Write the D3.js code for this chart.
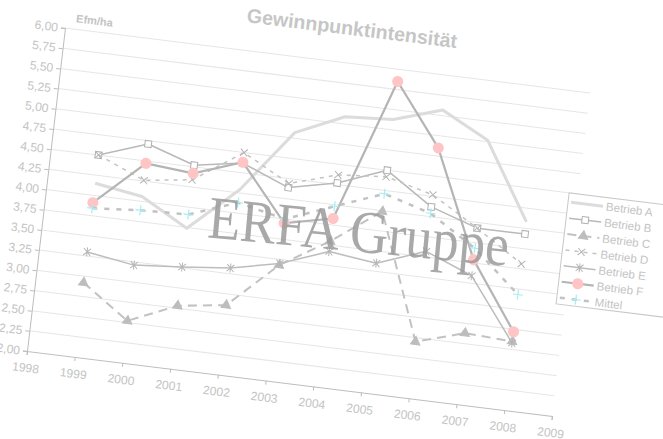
<!DOCTYPE html>
<html>
<head>
<meta charset="utf-8">
<script src="https://cdn.jsdelivr.net/npm/d3@7"></script>
<style>
  body { margin: 0; background: #fff; }
  svg { display: block; }
  text { font-family: "Liberation Sans", Arial, sans-serif; }
</style>
</head>
<body>
<svg id="chart"></svg>
<script>
// values
const years = [1999, 2000, 2001, 2002, 2003, 2004, 2005, 2006, 2007, 2008];
const betriebA = [4.15, 4.06, 3.74, 4.29, 5.07, 5.34, 5.38, 5.57, 5.27, 4.33];
const betriebB = [4.50, 4.71, 4.52, 4.62, 4.39, 4.52, 4.75, 4.37, 4.18, 4.18];
const betriebC = [2.92, 2.52, 2.78, 2.86, 3.43, 3.80, 4.24, 2.70, 2.88, 2.85];
const betriebD = [4.50, 4.26, 4.34, 4.75, 4.44, 4.62, 4.67, 4.52, 4.18, 3.81];
const betriebE = [3.30, 3.21, 3.26, 3.32, 3.45, 3.67, 3.60, 3.82, 3.59, 2.83];
const betriebF = [3.91, 4.47, 4.42, 4.63, 3.95, 4.08, 5.85, 5.10, 3.79, 2.97];
const mittel   = [3.84, 3.89, 3.91, 4.13, 4.00, 4.23, 4.46, 4.29, 3.93, 3.43];
const seriesNames = ["Betrieb A", "Betrieb B", "Betrieb C", "Betrieb D", "Betrieb E", "Betrieb F", "Mittel"];
const xTicks = d3.range(1998, 2010);
const yTicks = d3.range(2, 6.001, 0.25);

const width = 663, height = 439;
const plotW = 525, plotH = 323;

const svg = d3.select("#chart").attr("width", width).attr("height", height);

// the whole chart is drawn flat, then skewed like the photo of the page
const chart = svg.append("g")
  .attr("transform", "matrix(1,0.12381,-0.11765,1,65,28)");

const x = d3.scaleLinear().domain([1998, 2009]).range([0, plotW]);
const y = d3.scaleLinear().domain([2, 6]).range([plotH, 0]);
const fmt = d => d3.format(".2f")(d).replace(".", ",");

// gridlines
chart.append("g")
  .selectAll("line")
  .data(yTicks.slice(1))
  .enter().append("line")
  .attr("x1", 0).attr("x2", plotW)
  .attr("y1", d => y(d)).attr("y2", d => y(d))
  .attr("stroke", "#e6e6e6").attr("stroke-width", 1);

const yAxis = chart.append("g")
  .call(d3.axisLeft(y).tickValues(yTicks).tickFormat(fmt).tickSize(4).tickPadding(3));
const xAxis = chart.append("g")
  .attr("transform", `translate(0,${plotH})`)
  .call(d3.axisBottom(x).tickValues(xTicks).tickFormat(d3.format("d")).tickSize(4).tickPadding(6));

[yAxis, xAxis].forEach(a => {
  a.select(".domain").attr("stroke", "#bdbdbd");
  a.selectAll(".tick line").attr("stroke", "#bdbdbd");
  a.selectAll("text").attr("fill", "#c4c4c4").style("font-size", "12px")
    .style("font-family", '"Liberation Sans", Arial, sans-serif');
});
xAxis.selectAll("text").attr("dy", "0.9em");

chart.append("text")
  .attr("x", 10).attr("y", -7)
  .attr("fill", "#c4c4c4")
  .style("font-size", "11px").style("font-weight", "bold")
  .text("Efm/ha");

chart.append("text")
  .attr("x", 283).attr("y", -28)
  .attr("text-anchor", "middle")
  .attr("fill", "#c6c6c6")
  .style("font-size", "19.5px").style("font-weight", "bold")
  .text("Gewinnpunktintensität");

// marker shapes
const sq = d3.symbol().type(d3.symbolSquare).size(42)();
const tri = d3.symbol().type(d3.symbolTriangle).size(38)();
const cross = "M-3.5,-3.5L3.5,3.5M-3.5,3.5L3.5,-3.5";
const star = "M-3.5,-3.5L3.5,3.5M-3.5,3.5L3.5,-3.5M0,-4.5L0,4.5";
const plus = "M-5,0H5M0,-5V5";

const series = [
  { name: seriesNames[0], values: betriebA, stroke: "#dcdcdc", sw: 3, dash: null, marker: null },
  { name: seriesNames[1], values: betriebB, stroke: "#b9b9b9", sw: 1.5, dash: null,
    marker: { d: sq, fill: "#fff", stroke: "#b0b0b0", sw: 1 } },
  { name: seriesNames[2], values: betriebC, stroke: "#c2c2c2", sw: 2, dash: "9,6",
    marker: { d: tri, fill: "#bdbdbd", stroke: "#bdbdbd", sw: 1 } },
  { name: seriesNames[3], values: betriebD, stroke: "#c4c4c4", sw: 1.5, dash: "4,5",
    marker: { d: cross, fill: "none", stroke: "#b5b5b5", sw: 1 } },
  { name: seriesNames[4], values: betriebE, stroke: "#bdbdbd", sw: 1.5, dash: null,
    marker: { d: star, fill: "none", stroke: "#b5b5b5", sw: 1 } },
  { name: seriesNames[5], values: betriebF, stroke: "#b5b5b5", sw: 2.2, dash: null,
    marker: { circle: true, r: 5.5, fill: "#ffc4c4", stroke: "none", sw: 0 } },
  { name: seriesNames[6], values: mittel, stroke: "#c2c2c2", sw: 2.5, dash: "5,7",
    marker: { d: plus, fill: "none", stroke: "#a8ecf4", sw: 1.2 } }
];

const line = d3.line().x(d => x(d.year)).y(d => y(d.value));

series.forEach(s => {
  const pts = years.map((yr, i) => ({ year: yr, value: s.values[i] }));
  const g = chart.append("g");
  g.append("path")
    .datum(pts)
    .attr("d", line)
    .attr("fill", "none")
    .attr("stroke", s.stroke)
    .attr("stroke-width", s.sw)
    .attr("stroke-dasharray", s.dash)
    .attr("stroke-linejoin", "round");
  if (!s.marker) return;
  const m = s.marker;
  if (m.circle) {
    g.selectAll("circle").data(pts).enter().append("circle")
      .attr("cx", d => x(d.year)).attr("cy", d => y(d.value))
      .attr("r", m.r).attr("fill", m.fill);
  } else {
    g.selectAll(".mk").data(pts).enter().append("path")
      .attr("class", "mk")
      .attr("transform", d => `translate(${x(d.year)},${y(d.value)})`)
      .attr("d", m.d)
      .attr("fill", m.fill).attr("stroke", m.stroke).attr("stroke-width", m.sw);
  }
});

// legend
const legend = chart.append("g").attr("transform", "translate(516,101)");
legend.append("rect")
  .attr("width", 112).attr("height", 111)
  .attr("fill", "#fff").attr("stroke", "#c8c8c8").attr("stroke-width", 1);

series.forEach((s, i) => {
  const row = legend.append("g").attr("transform", `translate(0,${9 + i * 15.9})`);
  row.append("line")
    .attr("x1", 3).attr("x2", 35)
    .attr("stroke", s.stroke).attr("stroke-width", s.sw)
    .attr("stroke-dasharray", s.dash);
  const m = s.marker;
  if (m && m.circle) {
    row.append("circle").attr("cx", 19).attr("r", m.r).attr("fill", m.fill);
  } else if (m) {
    row.append("path").attr("transform", "translate(19,0)").attr("d", m.d)
      .attr("fill", m.fill).attr("stroke", m.stroke).attr("stroke-width", m.sw);
  }
  row.append("text")
    .attr("x", 38).attr("dy", "0.35em")
    .attr("fill", "#c4c4c4")
    .style("font-size", "11.5px")
    .text(s.name);
});

// watermark
chart.append("text")
  .attr("transform", "translate(164,189) rotate(-1.6) scale(0.88,1)")
  .attr("fill", "#9a9a9a")
  .attr("fill-opacity", 0.85)
  .style("font-family", '"Liberation Serif", "Times New Roman", serif')
  .style("font-size", "60px")
  .text("ERFA Gruppe");
</script>
</body>
</html>
